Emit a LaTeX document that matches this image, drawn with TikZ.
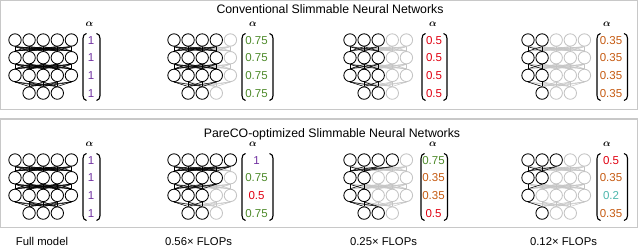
\documentclass[tikz,border=0pt]{standalone}
\usepackage{amsmath}
\usepackage{fontspec}
\setmainfont{Liberation Sans}
\usetikzlibrary{backgrounds,calc}
\definecolor{lightg}{HTML}{C4C4C4}
\definecolor{panelg}{HTML}{C8C8C8}
\definecolor{cpurple}{HTML}{7030A0}
\definecolor{cgreen}{HTML}{4E8A2A}
\definecolor{cred}{HTML}{E00010}
\definecolor{corange}{HTML}{C55A11}
\definecolor{cteal}{HTML}{4DB6AC}
\tikzset{
  neuron/.style={circle,minimum size=12.4pt,inner sep=0pt,fill=white,line width=0.85pt},
  edge/.style={line width=0.5pt},
  panel/.style={draw=panelg,line width=1.3pt},
  title/.style={font=\fontsize{12.3}{14}\selectfont,anchor=base,inner sep=0pt},
  caption/.style={font=\fontsize{11.3}{13}\selectfont,anchor=base,inner sep=0pt},
  val/.style={font=\fontsize{11.5}{13}\selectfont,anchor=base,inner sep=0pt},
  alph/.style={font=\fontsize{10}{12}\selectfont,inner sep=0pt},
  brack/.style={line width=1.1pt},
}
\newcommand\slimnet[7]{%
  \foreach \r/\k in {1/#4,2/#5,3/#6}{%
    \foreach \c in {0,...,4}{%
      \ifnum\c<\k\relax \def\nc{black}\else\def\nc{lightg}\fi
      \node[neuron,draw=\nc] (#1-\r-\c) at ({#2+\c*14.1},{#3+(\r-1)*17.7}) {};
    }}
  \foreach \c in {1,2,3}{%
    \ifnum\c>#7\relax \def\nc{lightg}\else\def\nc{black}\fi
    \node[neuron,draw=\nc] (#1-4-\c) at ({#2+\c*14.1},{#3+3*17.7}) {};
  }
  \begin{pgfonlayer}{background}
    \foreach \r/\s in {1/2,2/3}{\foreach \c in {0,...,4}{\foreach \d in {0,...,4}{%
      \draw[edge,lightg] (#1-\r-\c.south) -- (#1-\s-\d.north);}}}
    \foreach \c in {0,...,4}{\foreach \d in {1,2,3}{%
      \draw[edge,lightg] (#1-3-\c.south) -- (#1-4-\d.north);}}
    \foreach \r/\s/\k/\m in {1/2/#4/#5,2/3/#5/#6}{\foreach \c in {0,...,4}{\foreach \d in {0,...,4}{%
      \ifnum\c<\k\relax\ifnum\d<\m\relax \draw[edge] (#1-\r-\c.south) -- (#1-\s-\d.north);\fi\fi}}}
    \foreach \c in {0,...,4}{\foreach \d in {1,2,3}{%
      \ifnum\c<#6\relax\ifnum\d>#7\relax\else \draw[edge] (#1-3-\c.south) -- (#1-4-\d.north);\fi\fi}}
  \end{pgfonlayer}
}
% name, xL, xR, top, bottom
\newcommand\vbrack[5]{%
  \coordinate (#1-lt) at (#2+3.5,#4);
  \coordinate (#1-lb) at (#2+3.5,#5);
  \coordinate (#1-rt) at (#3-3.5,#4);
  \coordinate (#1-rb) at (#3-3.5,#5);
  \draw[brack] (#1-lt) to[out=180,in=90] ($(#1-lt)+(-3.5,5)$) -- ($(#1-lb)+(-3.5,-5)$) to[out=-90,in=180] (#1-lb);
  \draw[brack] (#1-rt) to[out=0,in=90] ($(#1-rt)+(3.5,5)$) -- ($(#1-rb)+(3.5,-5)$) to[out=-90,in=0] (#1-rb);
}
\begin{document}
\begin{tikzpicture}[x=1pt,y=-1pt]
\useasboundingbox (0,0) rectangle (640,248);
% panels
\draw[panel] (0.7,0.7) rectangle (637.5,109.5);
\draw[panel] (0.7,119) rectangle (637.5,227.8);
\node[title] (t1) at (330,14) {Conventional Slimmable Neural Networks};
\node[title] (t2) at (332,137.3) {PareCO-optimized Slimmable Neural Networks};
% networks top
\slimnet{a1}{15}{40}{5}{5}{5}{3}
\slimnet{a2}{174}{40}{4}{4}{4}{2}
\slimnet{a3}{350}{40}{3}{3}{3}{2}
\slimnet{a4}{528}{40}{2}{2}{2}{1}
% networks bottom
\slimnet{b1}{15}{160}{5}{5}{5}{3}
\slimnet{b2}{174}{160}{5}{4}{3}{2}
\slimnet{b3}{350}{160}{4}{2}{2}{2}
\slimnet{b4}{528}{160}{3}{2}{1}{1}
% brackets
\vbrack{ba1}{83}{100}{33.5}{100.5}
\vbrack{ba2}{242}{273}{33.5}{100.5}
\vbrack{ba3}{422}{447}{33.5}{100.5}
\vbrack{ba4}{597}{627.5}{33.5}{100.5}
\vbrack{bb1}{83}{100}{153.5}{220.5}
\vbrack{bb2}{242}{273}{153.5}{220.5}
\vbrack{bb3}{421}{447.5}{153.5}{220.5}
\vbrack{bb4}{597}{627.5}{153.5}{220.5}
% alphas
\node[alph] (al1) at (89.5,24.5) {$\boldsymbol{\alpha}$};
\node[alph] (al2) at (253,24.5) {$\boldsymbol{\alpha}$};
\node[alph] (al3) at (433,24.5) {$\boldsymbol{\alpha}$};
\node[alph] (al4) at (607,24.5) {$\boldsymbol{\alpha}$};
\node[alph] (bl1) at (89.5,144.5) {$\boldsymbol{\alpha}$};
\node[alph] (bl2) at (253,144.5) {$\boldsymbol{\alpha}$};
\node[alph] (bl3) at (433,144.5) {$\boldsymbol{\alpha}$};
\node[alph] (bl4) at (607,144.5) {$\boldsymbol{\alpha}$};
% values top
\foreach \i/\y in {1/40,2/57.7,3/75.4,4/93.1}{
  \node[val,text=cpurple] (va1-\i) at (91,\y+4.1) {1};
  \node[val,text=cgreen] (va2-\i) at (256.5,\y+4.1) {0.75};
  \node[val,text=cred] (va3-\i) at (434,\y+4.1) {0.5};
  \node[val,text=corange] (va4-\i) at (611,\y+4.1) {0.35};
  \node[val,text=cpurple] (vb1-\i) at (91,\y+124.1) {1};
}
% values bottom
\foreach \i/\y/\col/\v in {1/160/cpurple/1,2/177.7/cgreen/0.75,3/195.4/cred/0.5,4/213.1/cgreen/0.75}{
  \node[val,text=\col] (vb2-\i) at (256.5,\y+4.1) {\v};}
\foreach \i/\y/\col/\v in {1/160/cgreen/0.75,2/177.7/corange/0.35,3/195.4/corange/0.35,4/213.1/cred/0.5}{
  \node[val,text=\col] (vb3-\i) at (433.5,\y+4.1) {\v};}
\foreach \i/\y/\col/\v in {1/160/cred/0.5,2/177.7/corange/0.35,3/195.4/cteal/0.2,4/213.1/corange/0.35}{
  \node[val,text=\col] (vb4-\i) at (611,\y+4.1) {\v};}
% captions
\node[caption] (c1) at (42,246) {Full model};
\node[caption] (c2) at (198.5,246) {0.56\texttimes\ FLOPs};
\node[caption] (c3) at (383.5,246) {0.25\texttimes\ FLOPs};
\node[caption] (c4) at (563.5,246) {0.12\texttimes\ FLOPs};
\end{tikzpicture}
\end{document}
